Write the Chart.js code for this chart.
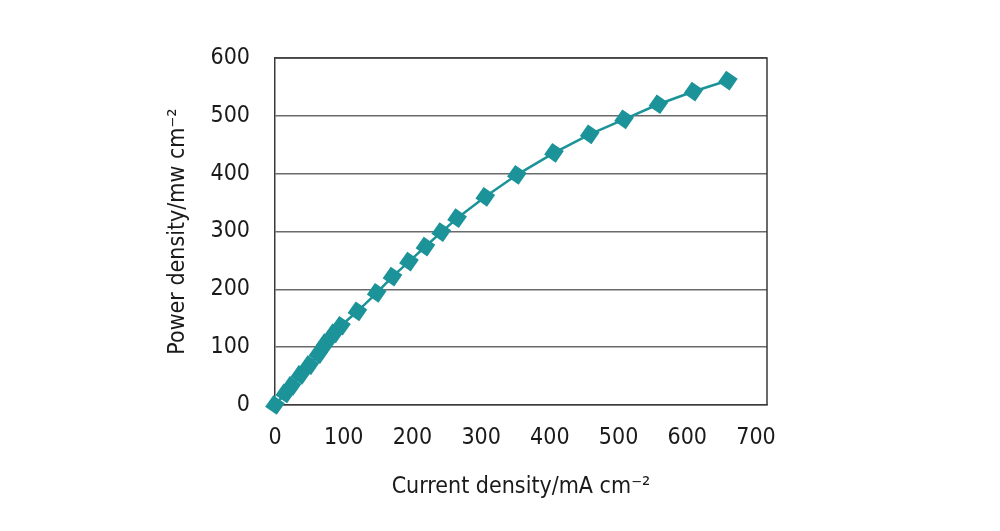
<!DOCTYPE html>
<html>
<head>
<meta charset="utf-8">
<script src="https://cdn.jsdelivr.net/npm/chart.js@4.4.1/dist/chart.umd.min.js"></script>
<style>
  html, body { margin: 0; padding: 0; background: #ffffff; }
  #wrap { width: 1000px; height: 531px; position: relative; }
</style>
</head>
<body>
<div id="wrap"><canvas id="c"></canvas></div>
<script>
// Data
const currentDensity = [0, 15, 24, 37, 50, 63, 74, 86, 96, 120, 148, 171, 195, 219, 242, 265, 306, 352, 406, 458, 508, 558, 609, 659];
const powerDensity   = [0, 20, 33, 52, 69, 88, 107, 124, 137, 162, 194, 222, 248, 274, 299, 323, 360, 398, 436, 468, 494, 520, 542, 561];
const xTickValues = [0, 100, 200, 300, 400, 500, 600, 700];
const yTickValues = [0, 100, 200, 300, 400, 500, 600];
const xTitle = 'Current density/mA cm\u207B\u00B2';
const yTitle = 'Power density/mw cm\u207B\u00B2';

const FONT = '"DejaVu Sans Condensed", "Liberation Sans Narrow", "DejaVu Sans", sans-serif';
const teal = '#1b9399';

const frame = {
  id: 'frame',
  afterDatasetsDraw(chart) {
    const a = chart.chartArea, ctx = chart.ctx;
    ctx.save();
    ctx.strokeStyle = '#3a3a3a';
    ctx.lineWidth = 1.5;
    ctx.beginPath();
    ctx.moveTo(a.left, a.top);
    ctx.lineTo(a.right, a.top);
    ctx.lineTo(a.right, a.bottom);
    ctx.stroke();
    ctx.restore();
  }
};

new Chart(document.getElementById('c'), {
  type: 'scatter',
  data: {
    datasets: [{
      data: currentDensity.map((x, i) => ({ x: x, y: powerDensity[i] })),
      showLine: true,
      borderColor: teal,
      backgroundColor: teal,
      borderWidth: 2.5,
      pointStyle: 'rectRot',
      pointRadius: 10,
      pointHoverRadius: 10,
      pointRotation: -10,
      pointBorderWidth: 0,
      clip: false
    }]
  },
  options: {
    responsive: true,
    maintainAspectRatio: false,
    animation: false,
    events: [],
    layout: { padding: { left: 160, right: 233, top: 58, bottom: 19 } },
    plugins: { legend: { display: false }, tooltip: { enabled: false } },
    scales: {
      x: {
        type: 'linear',
        min: 0,
        max: 716,
        afterBuildTicks: (s) => { s.ticks = xTickValues.map(v => ({ value: v })); },
        afterFit: (s) => { s.height = 107; },
        grid: { display: false, drawTicks: false },
        border: { display: true, color: '#3a3a3a', width: 1.5 },
        ticks: { color: '#1a1a1a', padding: 19, maxRotation: 0, font: { family: FONT, size: 23 } },
        title: { display: true, text: xTitle, color: '#1a1a1a', padding: { top: 0, bottom: 11 }, font: { family: FONT, size: 23 } }
      },
      y: {
        type: 'linear',
        min: 0,
        max: 600,
        afterBuildTicks: (s) => { s.ticks = yTickValues.map(v => ({ value: v })); },
        afterFit: (s) => { s.width = 115; },
        grid: { display: true, drawTicks: false, color: '#6a6a6a', lineWidth: 1.5 },
        border: { display: true, color: '#3a3a3a', width: 1.5 },
        ticks: { color: '#1a1a1a', padding: 25, font: { family: FONT, size: 23 } },
        title: { display: true, text: yTitle, color: '#1a1a1a', padding: { top: 4, bottom: 0 }, font: { family: FONT, size: 23 } }
      }
    }
  },
  plugins: [frame]
});
</script>
</body>
</html>
